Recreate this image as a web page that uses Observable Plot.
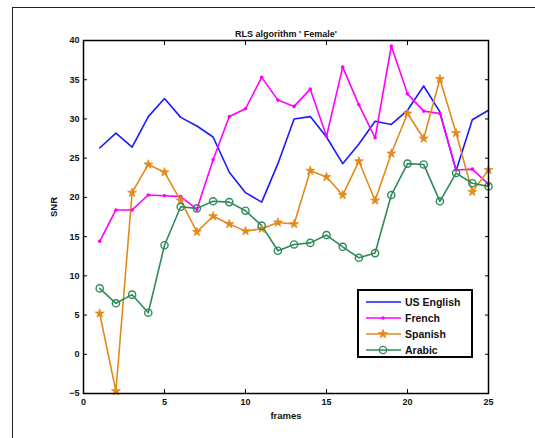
<!DOCTYPE html>
<html><head><meta charset="utf-8">
<script src="https://cdn.jsdelivr.net/npm/d3@7"></script>
<script src="https://cdn.jsdelivr.net/npm/@observablehq/plot@0.6"></script>
<style>
body{margin:0;background:#fff;}
#wrap{position:relative;width:535px;height:438px;overflow:hidden;font-family:"Liberation Sans",Arial,sans-serif;}
#outer{position:absolute;left:12px;top:7px;width:600px;height:500px;border-left:1.5px solid #222;border-top:1.5px solid #222;}
#chart{position:absolute;left:0;top:0;}
#legend{position:absolute;left:357px;top:289px;width:112px;height:65px;border:2px solid #000;background:#fff;}
.row{position:absolute;left:0;height:14px;display:flex;align-items:center;}
.row span{font-weight:bold;font-size:10.5px;color:#111;margin-left:3px;}
</style></head>
<body><div id="wrap"><div id="outer"></div><div id="chart"></div><div id="legend"></div></div>
<script>
const title = "RLS algorithm ' Female'";
const xLabel = "frames";
const yLabel = "SNR";
const frames = [1,2,3,4,5,6,7,8,9,10,11,12,13,14,15,16,17,18,19,20,21,22,23,24,25];
const usEnglish = [26.3,28.2,26.4,30.3,32.6,30.2,29.1,27.7,23.2,20.6,19.4,24.3,30.0,30.3,27.7,24.3,26.8,29.7,29.3,31.1,34.2,30.9,23.4,29.9,31.1];
const french = [14.4,18.4,18.4,20.3,20.2,20.1,18.5,24.8,30.3,31.3,35.3,32.4,31.6,33.8,27.8,36.6,31.8,27.6,39.3,33.2,31.0,30.7,23.5,23.6,21.7];
const spanish = [5.2,-4.7,20.6,24.2,23.2,19.6,15.6,17.6,16.6,15.7,16.0,16.8,16.6,23.4,22.6,20.3,24.6,19.6,25.6,30.7,27.5,35.1,28.2,20.7,23.5];
const arabic = [8.4,6.5,7.6,5.3,13.9,18.8,18.6,19.5,19.4,18.3,16.4,13.2,14.0,14.2,15.2,13.7,12.3,12.9,20.3,24.3,24.2,19.5,23.1,21.8,21.4];
const seriesNames = ["US English","French","Spanish","Arabic"];
const xTicks = [0,5,10,15,20,25];
const yTicks = [-5,0,5,10,15,20,25,30,35,40];

const colors = {"US English":"#1a1aff","French":"#ff00ff","Spanish":"#e38a1c","Arabic":"#2e8b57"};
const values = {"US English":usEnglish,"French":french,"Spanish":spanish,"Arabic":arabic};
const rows = seriesNames.flatMap(s => frames.map((f,i) => ({series:s, frame:f, snr:values[s][i]})));
const sel = s => rows.filter(d => d.series === s);

const plot = Plot.plot({
  width:535, height:438,
  marginLeft:83, marginRight:47, marginTop:40, marginBottom:45,
  style:{fontFamily:"Liberation Sans, Arial, sans-serif", fontSize:"9px", fontWeight:"bold", background:"transparent", overflow:"visible"},
  x:{domain:[0,25], label:null},
  y:{domain:[-5,40], label:null},
  marks:[
    Plot.axisX(xTicks,{anchor:"bottom", tickSize:4, dy:-4, text:null, stroke:"#000"}),
    Plot.axisX(xTicks,{anchor:"top", tickSize:4, dy:4, text:null, stroke:"#000"}),
    Plot.axisY(yTicks,{anchor:"left", tickSize:4, dx:4, text:null, stroke:"#000"}),
    Plot.axisY(yTicks,{anchor:"right", tickSize:4, dx:-4, text:null, stroke:"#000"}),
    Plot.axisX(xTicks,{anchor:"bottom", tickSize:0, tickPadding:5, fill:"#111", fontSize:9, fontWeight:"bold"}),
    Plot.axisY(yTicks,{anchor:"left", tickSize:0, tickPadding:4, fill:"#111", fontSize:9, fontWeight:"bold"}),
    ...seriesNames.map(s => Plot.line(sel(s), {x:"frame", y:"snr", stroke:colors[s], strokeWidth:1.6})),
    Plot.dot(sel("French"), {x:"frame", y:"snr", fill:colors["French"], r:1.8}),
    Plot.dot(sel("Spanish"), {x:"frame", y:"snr", fill:colors["Spanish"], stroke:colors["Spanish"], strokeWidth:0.8, symbol:"star", r:2.8}),
    Plot.dot(sel("Arabic"), {x:"frame", y:"snr", stroke:colors["Arabic"], fill:"none", strokeWidth:1.4, r:3.6}),
    Plot.frame({stroke:"#000", strokeWidth:1.5}),
    Plot.text([title], {frameAnchor:"top", dy:-10, fontSize:9, fontWeight:"bold", fill:"#111"}),
    Plot.text([xLabel], {frameAnchor:"bottom", dy:25, fontSize:9.5, fontWeight:"bold", fill:"#111"}),
    Plot.text([yLabel], {frameAnchor:"left", dx:-30, rotate:-90, fontSize:9.5, fontWeight:"bold", fill:"#111"})
  ]
});
document.getElementById("chart").appendChild(plot);

const leg = document.getElementById("legend");
seriesNames.forEach((s,i) => {
  const row = document.createElement("div");
  row.className = "row";
  row.style.top = (4 + i*16) + "px";
  row.style.left = "6px";
  const c = colors[s];
  let marker = "";
  if (s === "French") marker = `<circle cx="18" cy="7" r="1.8" fill="${c}"/>`;
  if (s === "Spanish") marker = `<path transform="translate(18,7)" d="${d3.symbol(d3.symbolStar, 25)()}" fill="${c}" stroke="${c}" stroke-width="0.8"/>`;
  if (s === "Arabic") marker = `<circle cx="18" cy="7" r="3.6" fill="none" stroke="${c}" stroke-width="1.4"/>`;
  row.innerHTML = `<svg width="37" height="14"><line x1="1" x2="36" y1="7" y2="7" stroke="${c}" stroke-width="1.6"/>${marker}</svg><span>${s}</span>`;
  leg.appendChild(row);
});
</script></body></html>
